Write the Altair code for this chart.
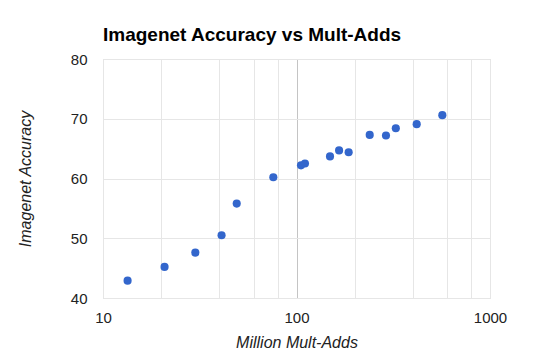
import altair as alt
import pandas as pd

mult_adds = [13.4, 20.8, 30.0, 41.0, 49.1, 75.9, 105.5, 110.6, 149, 166, 186, 239, 290, 326, 418, 567]
accuracy = [42.9, 45.2, 47.6, 50.5, 55.8, 60.2, 62.2, 62.5, 63.7, 64.7, 64.4, 67.3, 67.2, 68.4, 69.1, 70.6]
x_ticks = [10, 20, 40, 60, 80, 100, 200, 400, 600, 800, 1000]
x_labels = [10, 100, 1000]
y_ticks = [40, 50, 60, 70, 80]

df = pd.DataFrame({"madds": mult_adds, "acc": accuracy})

FONT = "Liberation Sans"

chart = alt.Chart(df).mark_circle(size=66, opacity=1, color="#3366cc").encode(
    x=alt.X("madds:Q",
            scale=alt.Scale(type="log", domain=[10, 1000], nice=False),
            axis=alt.Axis(values=x_ticks, format="d",
                          labelExpr="indexof([" + ",".join(str(v) for v in x_labels) + "], datum.value) >= 0 ? datum.label : ''",
                          title="Million Mult-Adds", ticks=False, domain=False,
                          gridColor=alt.condition("datum.value == 100", alt.value("#c4c4c4"), alt.value("#e6e6e6")),
                          labelFontSize=15, labelColor="#222222", labelFont=FONT,
                          labelPadding=12, titleFontSize=16, titleFontStyle="italic",
                          titleFontWeight="normal", titleColor="#222222", titleFont=FONT,
                          titlePadding=9, labelFlush=False, labelOverlap=False)),
    y=alt.Y("acc:Q",
            scale=alt.Scale(domain=[40, 80], nice=False, zero=False),
            axis=alt.Axis(values=y_ticks, title="Imagenet Accuracy", ticks=False, domain=False,
                          gridColor="#e6e6e6",
                          labelFontSize=15, labelColor="#222222", labelFont=FONT,
                          labelPadding=16, titleFontSize=16, titleFontStyle="italic",
                          titleFontWeight="normal", titleColor="#222222", titleFont=FONT,
                          titlePadding=37, labelFlush=False, labelOverlap=False)),
).properties(
    width=387, height=239,
    title=alt.TitleParams("Imagenet Accuracy vs Mult-Adds", anchor="start", frame="group",
                          fontSize=19, fontWeight="bold", font=FONT, color="#000000", offset=7),
    autosize=alt.AutoSizeParams(type="none"),
    padding={"left": 95, "top": 51, "right": 40, "bottom": 54},
).configure_view(stroke="#d4d4d4", strokeWidth=1)

chart.save("out.html", embed_options={"renderer": "svg", "actions": False})
